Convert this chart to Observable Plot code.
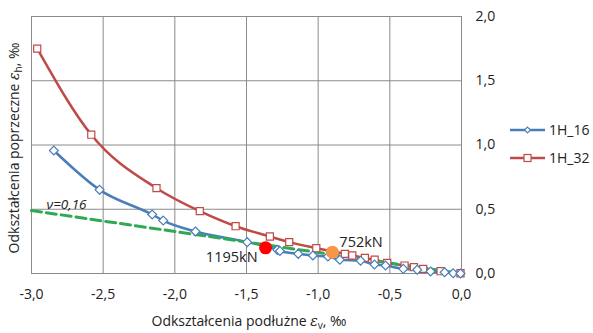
<!DOCTYPE html>
<html><head><meta charset="utf-8">
<script src="https://cdn.jsdelivr.net/npm/d3@7"></script>
<script src="https://cdn.jsdelivr.net/npm/@observablehq/plot@0.6"></script>
<style>
body{margin:0;background:#fff;}
svg{font-family:"Open Sans",sans-serif;}
</style></head>
<body><div id="chart"></div>
<script>
const s16x = [-2.844,-2.525,-2.158,-2.081,-1.856,-1.495,-1.285,-1.267,-1.139,-1.037,-0.932,-0.849,-0.704,-0.607,-0.530,-0.406,-0.309,-0.216,-0.118,-0.058,-0.007];
const s16y = [0.957,0.651,0.459,0.412,0.327,0.244,0.184,0.175,0.153,0.140,0.132,0.107,0.099,0.070,0.062,0.036,0.029,0.016,0.010,0.002,0.000];
const s32x = [-2.96,-2.583,-2.128,-1.826,-1.576,-1.337,-1.202,-1.013,-0.814,-0.762,-0.674,-0.606,-0.518,-0.397,-0.332,-0.267,-0.146,-0.007];
const s32y = [1.75,1.08,0.664,0.485,0.368,0.288,0.244,0.197,0.153,0.140,0.122,0.107,0.083,0.062,0.049,0.036,0.018,0.002];
const nuX = [-3.0, 0.0];
const nuY = [0.49, 0.0];
const loads = ["1195kN","752kN"];
const loadX = [-1.367,-0.901];
const loadY = [0.200,0.166];
const xTicks = [-3.0,-2.5,-2.0,-1.5,-1.0,-0.5,0.0];
const yTicks = [0.0,0.5,1.0,1.5,2.0];
const seriesNames = ["1H_16","1H_32"];

const blue = "#4a7ebb", red = "#be4b48", green = "#2eaa55";
const d16 = s16x.map((x,i)=>({x,y:s16y[i]}));
const d32 = s32x.map((x,i)=>({x,y:s32y[i]}));
const dnu = nuX.map((x,i)=>({x,y:nuY[i]}));
const dl = loads.map((t,i)=>({t,x:loadX[i],y:loadY[i]}));
const fmt = d => d.toFixed(1).replace(".",",");

const plot = Plot.plot({
  width:593, height:333,
  marginLeft:31, marginRight:132, marginTop:16, marginBottom:60,
  style:{fontFamily:"Open Sans, sans-serif", fontSize:"14px", color:"#222"},
  x:{domain:[-3,0], ticks:xTicks, tickFormat:fmt, label:null},
  y:{domain:[0,2], ticks:yTicks, tickFormat:fmt, label:null},
  marks:[
    Plot.gridX(xTicks,{stroke:"#8a8a8a", strokeOpacity:1}),
    Plot.gridY(yTicks,{stroke:"#8a8a8a", strokeOpacity:1}),
    Plot.frame({stroke:"#8a8a8a"}),
    Plot.axisX({ticks:xTicks, tickFormat:fmt, tickSize:0, tickPadding:16, fontSize:14, fill:"#222"}),
    Plot.axisY({anchor:"right", ticks:yTicks, tickFormat:fmt, tickSize:0, tickPadding:14, fontSize:14, textAnchor:"start", fill:"#222"}),
    Plot.line(d32,{x:"x",y:"y",stroke:red,strokeWidth:2.5,curve:"monotone-x"}),
    Plot.line(d16,{x:"x",y:"y",stroke:blue,strokeWidth:2.5,curve:"monotone-x"}),
    Plot.line(dnu,{x:"x",y:"y",stroke:green,strokeWidth:3,strokeDasharray:"10,5"}),
    Plot.dot(d32,{x:"x",y:"y",symbol:"square",r:4,stroke:red,fill:"white",strokeWidth:1.2}),
    Plot.dot(d16,{x:"x",y:"y",symbol:"diamond2",r:4,stroke:blue,fill:"white",strokeWidth:1.2}),
    Plot.dot(dl,{x:"x",y:"y",r:6.5,fill:["#ff0000","#f79646"]}),
    Plot.text(dl.slice(0,1),{x:"x",y:"y",text:"t",dx:-8,dy:10,textAnchor:"end",fontSize:14.5,fill:"#222"}),
    Plot.text(dl.slice(1),{x:"x",y:"y",text:"t",dx:7,dy:-10,textAnchor:"start",fontSize:14.5,fill:"#222"}),
    Plot.text(dnu.slice(0,1),{x:"x",y:"y",text:()=>"ν=0,16",dx:15,dy:-6,textAnchor:"start",fontSize:13.5,fontStyle:"italic",fill:"#222"})
  ]
});
document.getElementById("chart").appendChild(plot);

const svg = d3.select(plot);
// legend
const legY = [130,158];
const legCol = [blue, red];
seriesNames.forEach((n,i)=>{
  const g = svg.append("g").attr("text-anchor","start");
  g.append("line").attr("x1",510).attr("x2",545).attr("y1",legY[i]).attr("y2",legY[i]).attr("stroke",legCol[i]).attr("stroke-width",2.5);
  if(i===0){
    g.append("path").attr("d",d3.symbol(d3.symbolDiamond2,22)()).attr("transform",`translate(527.5,${legY[i]})`).attr("fill","white").attr("stroke",legCol[i]).attr("stroke-width",1.2);
  } else {
    g.append("rect").attr("x",524).attr("y",legY[i]-3.5).attr("width",7).attr("height",7).attr("fill","white").attr("stroke",legCol[i]).attr("stroke-width",1.2);
  }
  g.append("text").attr("x",549).attr("y",legY[i]).attr("dy","0.35em").attr("text-anchor","start").attr("font-size",14).attr("fill","#222").text(n);
});
// axis titles
const xt = svg.append("text").attr("x",249).attr("y",326).attr("text-anchor","middle").attr("font-size",14).attr("fill","#222");
xt.append("tspan").text("Odkształcenia podłużne ");
xt.append("tspan").attr("font-style","italic").attr("font-family","DejaVu Serif").text("ε");
xt.append("tspan").attr("font-size",10).attr("dy",3).text("v");
xt.append("tspan").attr("dy",-3).text(", ‰");
const yt = svg.append("text").attr("transform","translate(19,148) rotate(-90)").attr("text-anchor","middle").attr("font-size",14).attr("fill","#222");
yt.append("tspan").text("Odkształcenia poprzeczne ");
yt.append("tspan").attr("font-style","italic").attr("font-family","DejaVu Serif").text("ε");
yt.append("tspan").attr("font-size",10).attr("dy",3).text("h");
yt.append("tspan").attr("dy",-3).text(", ‰");
</script></body></html>
